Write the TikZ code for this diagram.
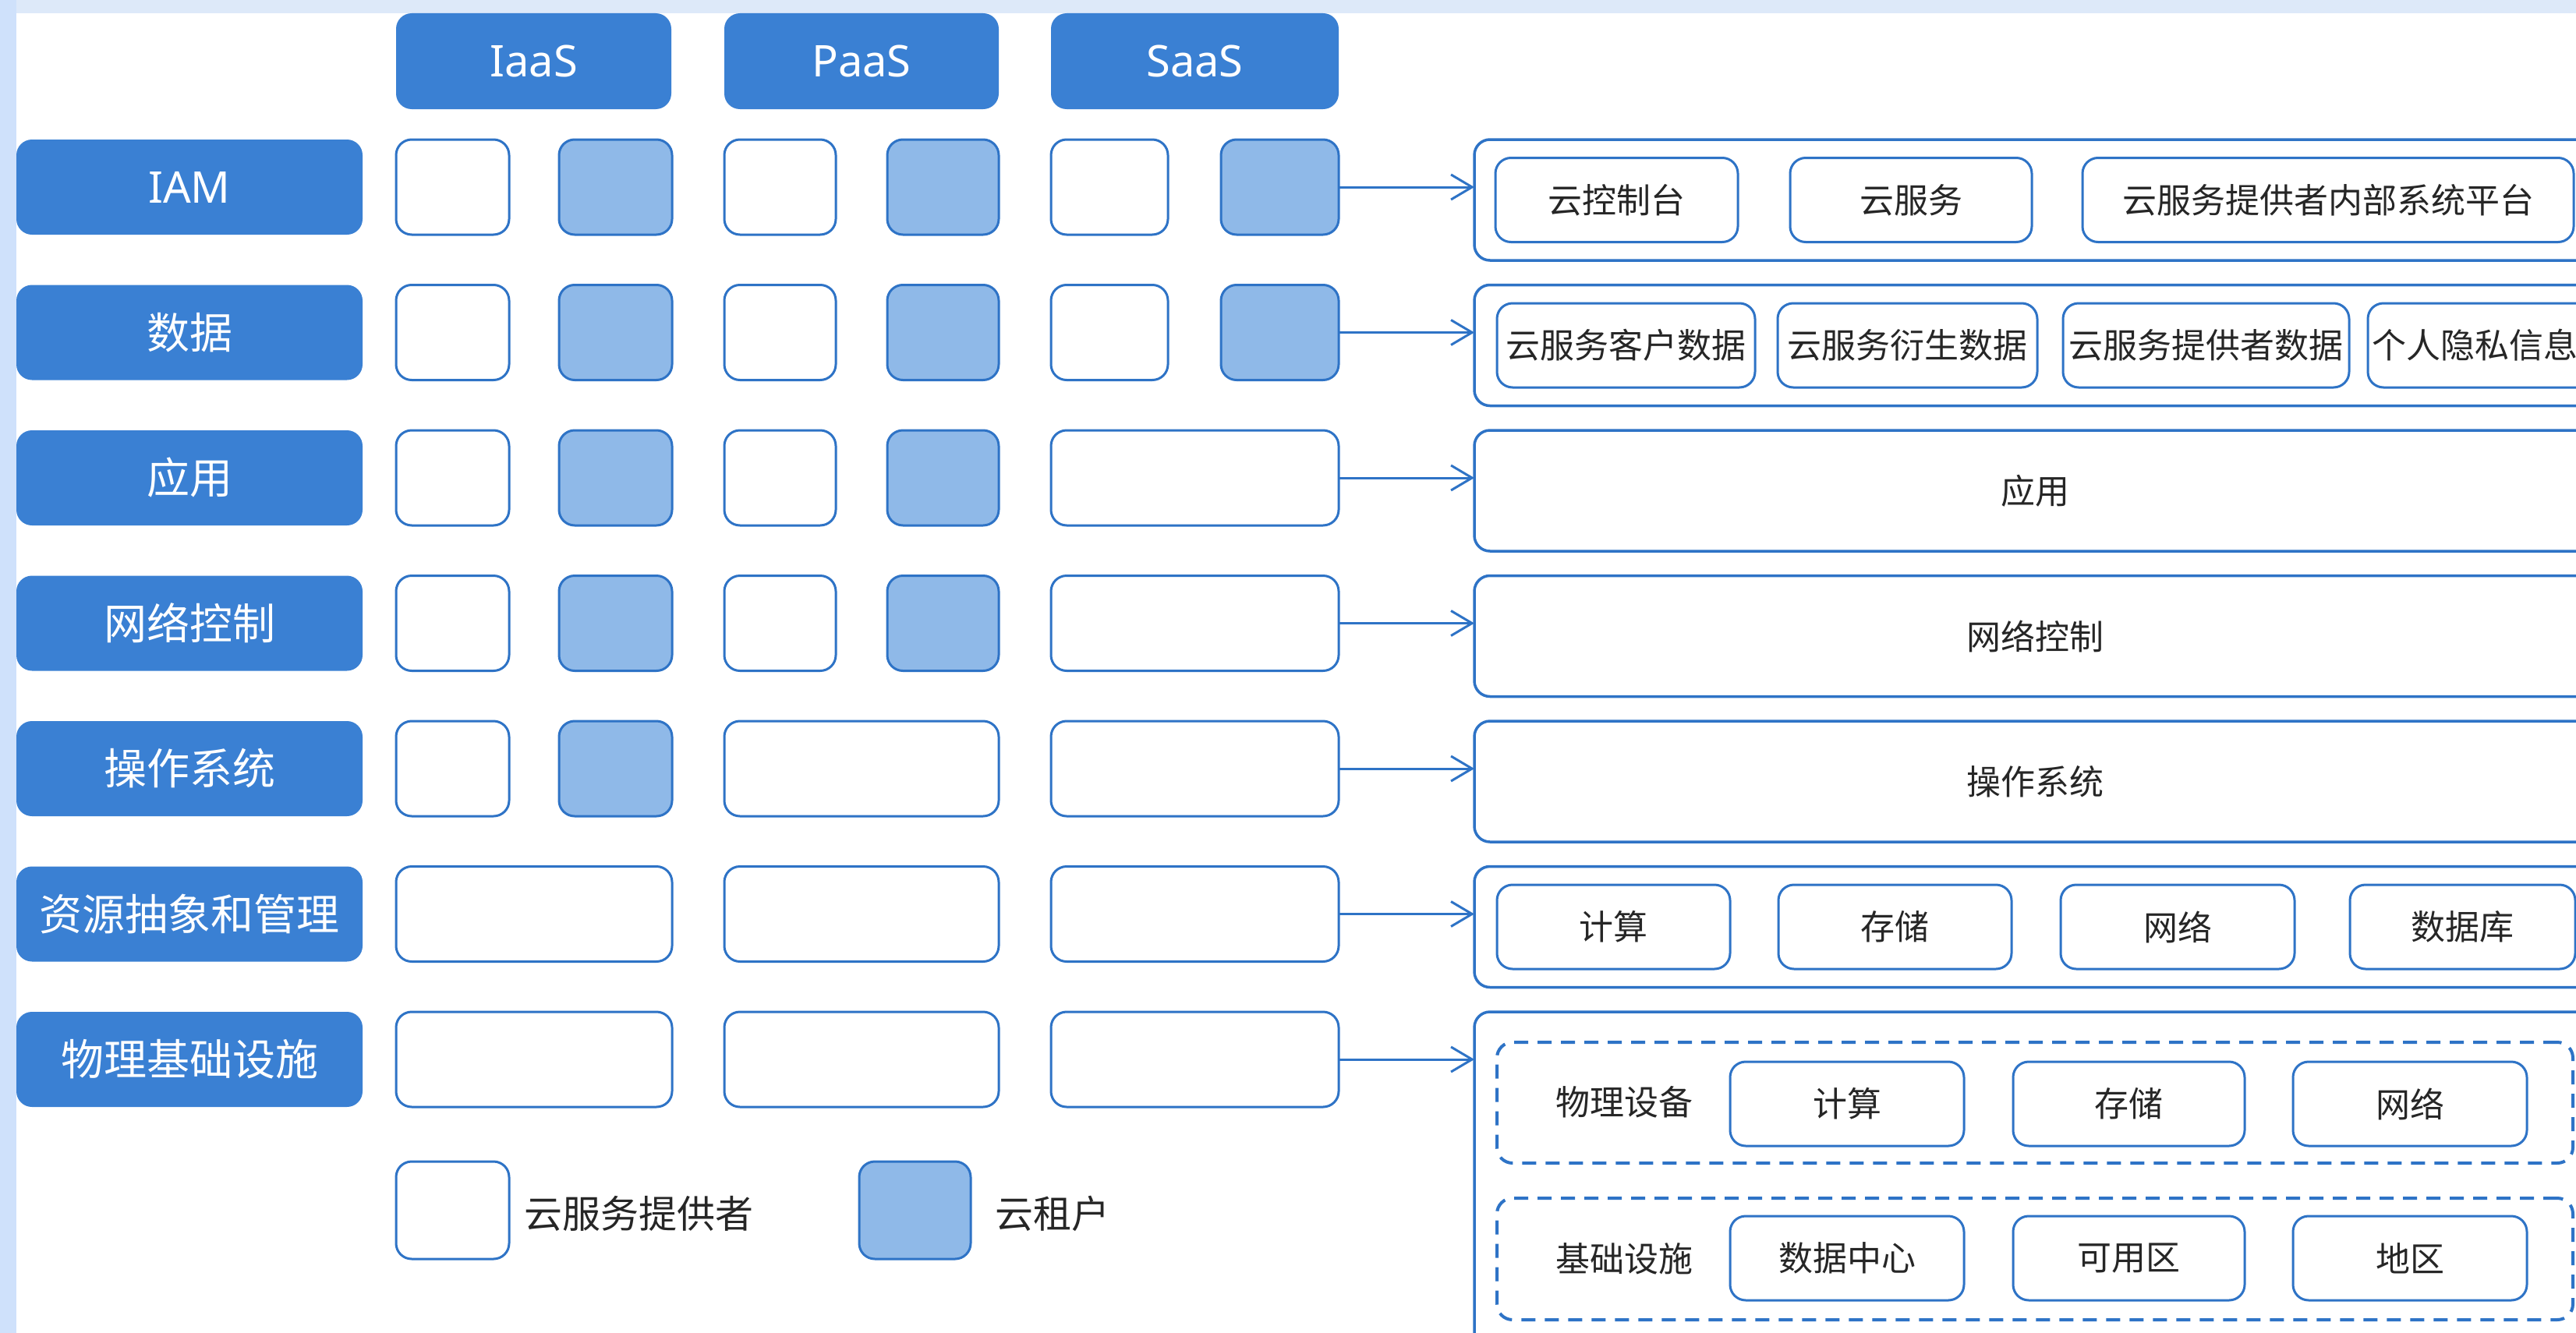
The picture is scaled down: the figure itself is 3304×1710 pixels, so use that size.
\documentclass[tikz,border=0pt]{standalone}
\usepackage{fontspec}
\setmainfont{Noto Sans CJK SC}
\newfontfamily\latinf{Noto Sans}
\usetikzlibrary{arrows.meta}
\definecolor{hdr}{HTML}{3A80D3}
\definecolor{lblue}{HTML}{8FB9E8}
\definecolor{bord}{HTML}{2E73C6}
\definecolor{txt}{HTML}{262626}
\definecolor{strip}{HTML}{CFE1FB}
\definecolor{topstrip}{HTML}{DDE9F9}
\begin{document}
\begin{tikzpicture}[x=1pt,y=-1pt,
  base/.style={rounded corners=20pt, inner sep=0pt, outer sep=0pt, line width=3pt},
  sz/.style 2 args={minimum width=#1pt, minimum height=#2pt},
  hdrbox/.style={base, fill=hdr, text=white},
  latintxt/.style={font=\latinf\fontsize{56}{60}\selectfont},
  cjklabel/.style={font=\fontsize{55}{60}\selectfont},
  cellw/.style={base, draw=bord, fill=white},
  cellb/.style={base, draw=bord, fill=lblue},
  panel/.style={base, draw=bord, line width=3.5pt, fill=white, text=txt, font=\fontsize{44}{50}\selectfont},
  inbox/.style={base, draw=bord, fill=white, text=txt, font=\fontsize{44}{50}\selectfont},
  dbox/.style={base, draw=bord, line width=4pt, dash pattern=on 18pt off 12pt},
  plain/.style={inner sep=0pt, text=txt, font=\fontsize{44}{50}\selectfont},
  legtxt/.style={inner sep=0pt, text=txt, font=\fontsize{49}{54}\selectfont, anchor=west},
  link/.style={draw=bord, line width=3pt, -{Straight Barb[length=27pt,width=32pt,line width=3pt]}}
]
\useasboundingbox (0,0) rectangle (3304,1710);
\clip (0,0) rectangle (3304,1710);
% background
\fill[strip] (0,0) rectangle (3304,1710);
\shade[left color=topstrip, middle color=white!70!topstrip, right color=topstrip] (21,0) rectangle (3304,17);
\fill[white] (21,17) rectangle (3304,1710);

% headers
\node[hdrbox, sz={353}{123}, latintxt] (hI) at (684.5,78.5) {IaaS};
\node[hdrbox, sz={352}{123}, latintxt] (hP) at (1105,78.5) {PaaS};
\node[hdrbox, sz={369}{123}, latintxt] (hS) at (1532.5,78.5) {SaaS};

% row labels
\node[hdrbox, sz={444}{122}, latintxt] (rIAM) at (243,240) {IAM};
\node[hdrbox, sz={444}{122}, cjklabel] (rData) at (243,426.5) {数据};
\node[hdrbox, sz={444}{122}, cjklabel] (rApp) at (243,613) {应用};
\node[hdrbox, sz={444}{122}, cjklabel] (rNet) at (243,799.5) {网络控制};
\node[hdrbox, sz={444}{122}, cjklabel] (rOS) at (243,986) {操作系统};
\node[hdrbox, sz={444}{122}, cjklabel] (rRes) at (243,1172.5) {资源抽象和管理};
\node[hdrbox, sz={444}{122}, cjklabel] (rPhy) at (243,1359) {物理基础设施};

% row 1 IAM
\node[cellw, sz={145}{122}] (a1) at (580.5,240) {};
\node[cellb, sz={145}{122}] (a2) at (789.5,240) {};
\node[cellw, sz={143}{122}] (a3) at (1000.5,240) {};
\node[cellb, sz={143}{122}] (a4) at (1209.5,240) {};
\node[cellw, sz={150}{122}] (a5) at (1423,240) {};
\node[cellb, sz={151}{122}] (a6) at (1641.5,240) {};
% row 2 data
\node[cellw, sz={145}{122}] (b1) at (580.5,426.5) {};
\node[cellb, sz={145}{122}] (b2) at (789.5,426.5) {};
\node[cellw, sz={143}{122}] (b3) at (1000.5,426.5) {};
\node[cellb, sz={143}{122}] (b4) at (1209.5,426.5) {};
\node[cellw, sz={150}{122}] (b5) at (1423,426.5) {};
\node[cellb, sz={151}{122}] (b6) at (1641.5,426.5) {};
% row 3 app
\node[cellw, sz={145}{122}] (c1) at (580.5,613) {};
\node[cellb, sz={145}{122}] (c2) at (789.5,613) {};
\node[cellw, sz={143}{122}] (c3) at (1000.5,613) {};
\node[cellb, sz={143}{122}] (c4) at (1209.5,613) {};
\node[cellw, sz={369}{122}] (c5) at (1532.5,613) {};
% row 4 net
\node[cellw, sz={145}{122}] (d1) at (580.5,799.5) {};
\node[cellb, sz={145}{122}] (d2) at (789.5,799.5) {};
\node[cellw, sz={143}{122}] (d3) at (1000.5,799.5) {};
\node[cellb, sz={143}{122}] (d4) at (1209.5,799.5) {};
\node[cellw, sz={369}{122}] (d5) at (1532.5,799.5) {};
% row 5 os
\node[cellw, sz={145}{122}] (e1) at (580.5,986) {};
\node[cellb, sz={145}{122}] (e2) at (789.5,986) {};
\node[cellw, sz={352}{122}] (e3) at (1105,986) {};
\node[cellw, sz={369}{122}] (e4) at (1532.5,986) {};
% row 6 res
\node[cellw, sz={354}{122}] (f1) at (685,1172.5) {};
\node[cellw, sz={352}{122}] (f2) at (1105,1172.5) {};
\node[cellw, sz={369}{122}] (f3) at (1532.5,1172.5) {};
% row 7 phy
\node[cellw, sz={354}{122}] (g1) at (685,1359) {};
\node[cellw, sz={352}{122}] (g2) at (1105,1359) {};
\node[cellw, sz={369}{122}] (g3) at (1532.5,1359) {};

% panels
\node[panel, sz={1439}{155}] (p1) at (2610.5,256.5) {};
\node[panel, sz={1439}{155}] (p2) at (2610.5,443) {};
\node[panel, sz={1439}{155}] (p3) at (2610.5,629.5) {应用};
\node[panel, sz={1439}{155}] (p4) at (2610.5,816) {网络控制};
\node[panel, sz={1439}{155}] (p5) at (2610.5,1002.5) {操作系统};
\node[panel, sz={1439}{155}] (p6) at (2610.5,1189) {};
\node[panel, sz={1439}{462}] (p7) at (2610.5,1529) {};

% IAM panel contents
\node[inbox, sz={311}{108}] (i1) at (2073.5,256.5) {云控制台};
\node[inbox, sz={310}{108}] (i2) at (2451,256.5) {云服务};
\node[inbox, sz={630}{108}] (i3) at (2986,256.5) {云服务提供者内部系统平台};
% data panel contents
\node[inbox, sz={331}{108}] (j1) at (2085.5,443) {云服务客户数据};
\node[inbox, sz={333}{108}] (j2) at (2446.5,443) {云服务衍生数据};
\node[inbox, sz={367}{108}] (j3) at (2829.5,443) {云服务提供者数据};
\node[inbox, sz={303}{108}, text width=293pt, inner xsep=5pt, align=left] (j4) at (3188.5,443) {个人隐私信息};
% resource panel contents
\node[inbox, sz={299}{108}] (k1) at (2069.5,1189) {计算};
\node[inbox, sz={299}{108}] (k2) at (2430.5,1189) {存储};
\node[inbox, sz={300}{108}] (k3) at (2793,1189) {网络};
\node[inbox, sz={289}{108}] (k4) at (3158.5,1189) {数据库};
% physical panel contents
\node[dbox, sz={1380}{155}] (q1) at (2610,1414.5) {};
\node[dbox, sz={1380}{156}] (q2) at (2610,1615) {};
\node[plain] (q1l) at (2083,1414) {物理设备};
\node[plain] (q2l) at (2083,1615) {基础设施};
\node[inbox, sz={300}{108}] (m1) at (2369,1416) {计算};
\node[inbox, sz={297}{108}] (m2) at (2730.5,1416) {存储};
\node[inbox, sz={300}{108}] (m3) at (3091,1416) {网络};
\node[inbox, sz={300}{108}] (n1) at (2369,1614) {数据中心};
\node[inbox, sz={297}{108}] (n2) at (2730.5,1614) {可用区};
\node[inbox, sz={300}{108}] (n3) at (3091,1614) {地区};

% arrows
\draw[link] (a6.east) -- (a6.east -| p1.west);
\draw[link] (b6.east) -- (b6.east -| p2.west);
\draw[link] (c5.east) -- (c5.east -| p3.west);
\draw[link] (d5.east) -- (d5.east -| p4.west);
\draw[link] (e4.east) -- (e4.east -| p5.west);
\draw[link] (f3.east) -- (f3.east -| p6.west);
\draw[link] (g3.east) -- (g3.east -| p7.west);

% legend
\node[cellw, sz={145}{125}] (lw) at (580.5,1552.5) {};
\node[legtxt] (lwt) at (672,1557) {云服务提供者};
\node[cellb, sz={143}{125}] (lb) at (1173.5,1552.5) {};
\node[legtxt] (lbt) at (1276,1557) {云租户};
\end{tikzpicture}
\end{document}
